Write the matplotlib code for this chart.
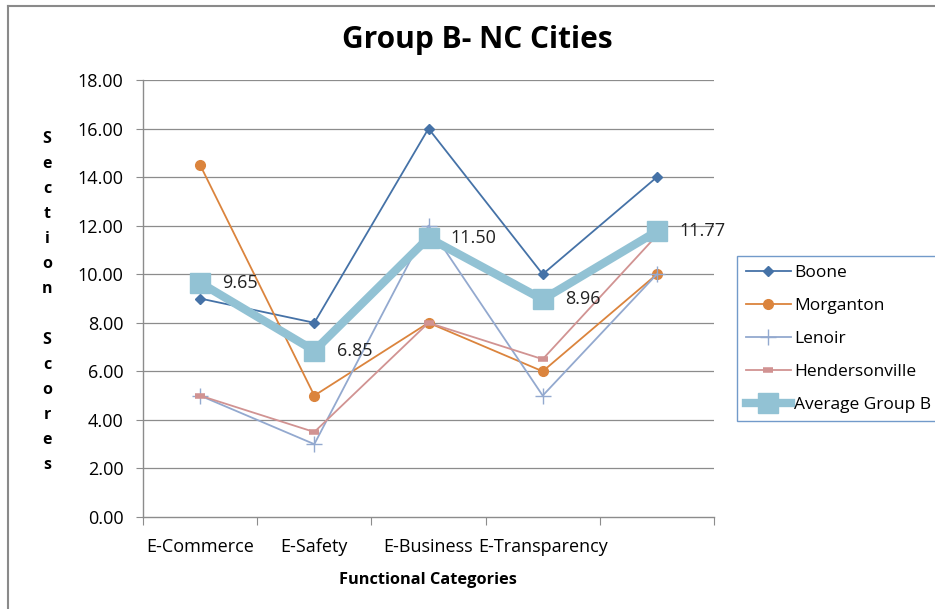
import numpy as np
import matplotlib.pyplot as plt

plt.rcParams['font.family'] = ['Open Sans', 'DejaVu Sans']

# Chart data
categories = ['E-Commerce', 'E-Safety', 'E-Business', 'E-Transparency', '']
boone = [9.0, 8.0, 16.0, 10.0, 14.0]
morganton = [14.5, 5.0, 8.0, 6.0, 10.0]
lenoir = [5.0, 3.0, 12.0, 5.0, 10.0]
hendersonville = [5.0, 3.5, 8.0, 6.5, 11.6]
average_b = [9.65, 6.85, 11.50, 8.96, 11.77]
y_ticks = [0, 2, 4, 6, 8, 10, 12, 14, 16, 18]

x = np.arange(len(categories)) + 0.5

fig = plt.figure(figsize=(9.35, 6.09), dpi=100)
fig.patch.set_facecolor('white')
ax = fig.add_axes([143 / 935, 1 - 517 / 609, (714 - 143) / 935, (517 - 80) / 609])

# outer chart border (left and top visible)
fig.add_artist(plt.Line2D([8 / 935, 8 / 935], [0, 1 - 6 / 609], transform=fig.transFigure,
                          color='#8a8a8a', lw=1.5))
fig.add_artist(plt.Line2D([8 / 935, 1], [1 - 6 / 609, 1 - 6 / 609], transform=fig.transFigure,
                          color='#8a8a8a', lw=1.5))

grid_color = '#8c8c8c'
for v in y_ticks[1:]:
    ax.axhline(v, color=grid_color, lw=0.9, zorder=1)

ax.plot(x, boone, color='#4572A7', lw=1.3, marker='D', ms=5, label='Boone', zorder=4)
ax.plot(x, morganton, color='#DB843D', lw=1.3, marker='o', ms=7, label='Morganton', zorder=4)
ax.plot(x, lenoir, color='#93A9CF', lw=1.3, marker='+', ms=11, mew=1.0, label='Lenoir', zorder=4)
ax.plot(x, hendersonville, color='#D19392', lw=1.3, marker='_', ms=7, mew=4, label='Hendersonville', zorder=4)
ax.plot(x, average_b, color='#92C2D4', lw=6, marker='s', ms=14, label='Average Group B', zorder=5)

for xi, v in zip(x, average_b):
    ax.annotate(f'{v:.2f}', (xi, v), xytext=(16, 0), textcoords='offset points',
                ha='left', va='center', fontsize=13, color='#222222', zorder=6)

ax.set_xlim(0, 5)
ax.set_ylim(0, 18)
ax.set_yticks(y_ticks)
ax.set_yticklabels([f'{v:.2f}' for v in y_ticks], fontsize=13)
ax.set_xticks(np.arange(0, 6))
ax.set_xticklabels([])
ax.set_xticks(x, minor=True)
ax.set_xticklabels(categories, minor=True, fontsize=13)
ax.tick_params(axis='x', which='minor', length=0, pad=15)
ax.tick_params(axis='x', which='major', length=6, color=grid_color, direction='out')
ax.tick_params(axis='y', length=5, color=grid_color, direction='out', pad=9)

for side in ['top', 'right']:
    ax.spines[side].set_visible(False)
for side in ['left', 'bottom']:
    ax.spines[side].set_color(grid_color)
    ax.spines[side].set_linewidth(1.0)

fig.text(477 / 935, 1 - 40 / 609, 'Group B- NC Cities', ha='center', va='center',
         fontsize=21.5, fontweight='bold')
fig.text(428 / 935, 1 - 580 / 609, 'Functional Categories', ha='center', va='center',
         fontsize=11.8, fontweight='bold')
ylabel = '\n'.join(list('Section') + [' '] + list('Scores'))
fig.text(47 / 935, 1 - 302 / 609, ylabel, ha='center', va='center', fontsize=11.5,
         fontweight='bold', linespacing=1.76)

leg = ax.legend(loc='upper left', bbox_to_anchor=(737 / 935, 1 - 256 / 609),
                bbox_transform=fig.transFigure, frameon=True, fancybox=False,
                fontsize=12.5, handlelength=2.6, handletextpad=0.2, labelspacing=0.97,
                borderpad=0.5, borderaxespad=0)
leg.get_frame().set_edgecolor('#4f81bd')
leg.get_frame().set_linewidth(1.0)

fig.savefig('out.png', dpi=100, facecolor='white')
